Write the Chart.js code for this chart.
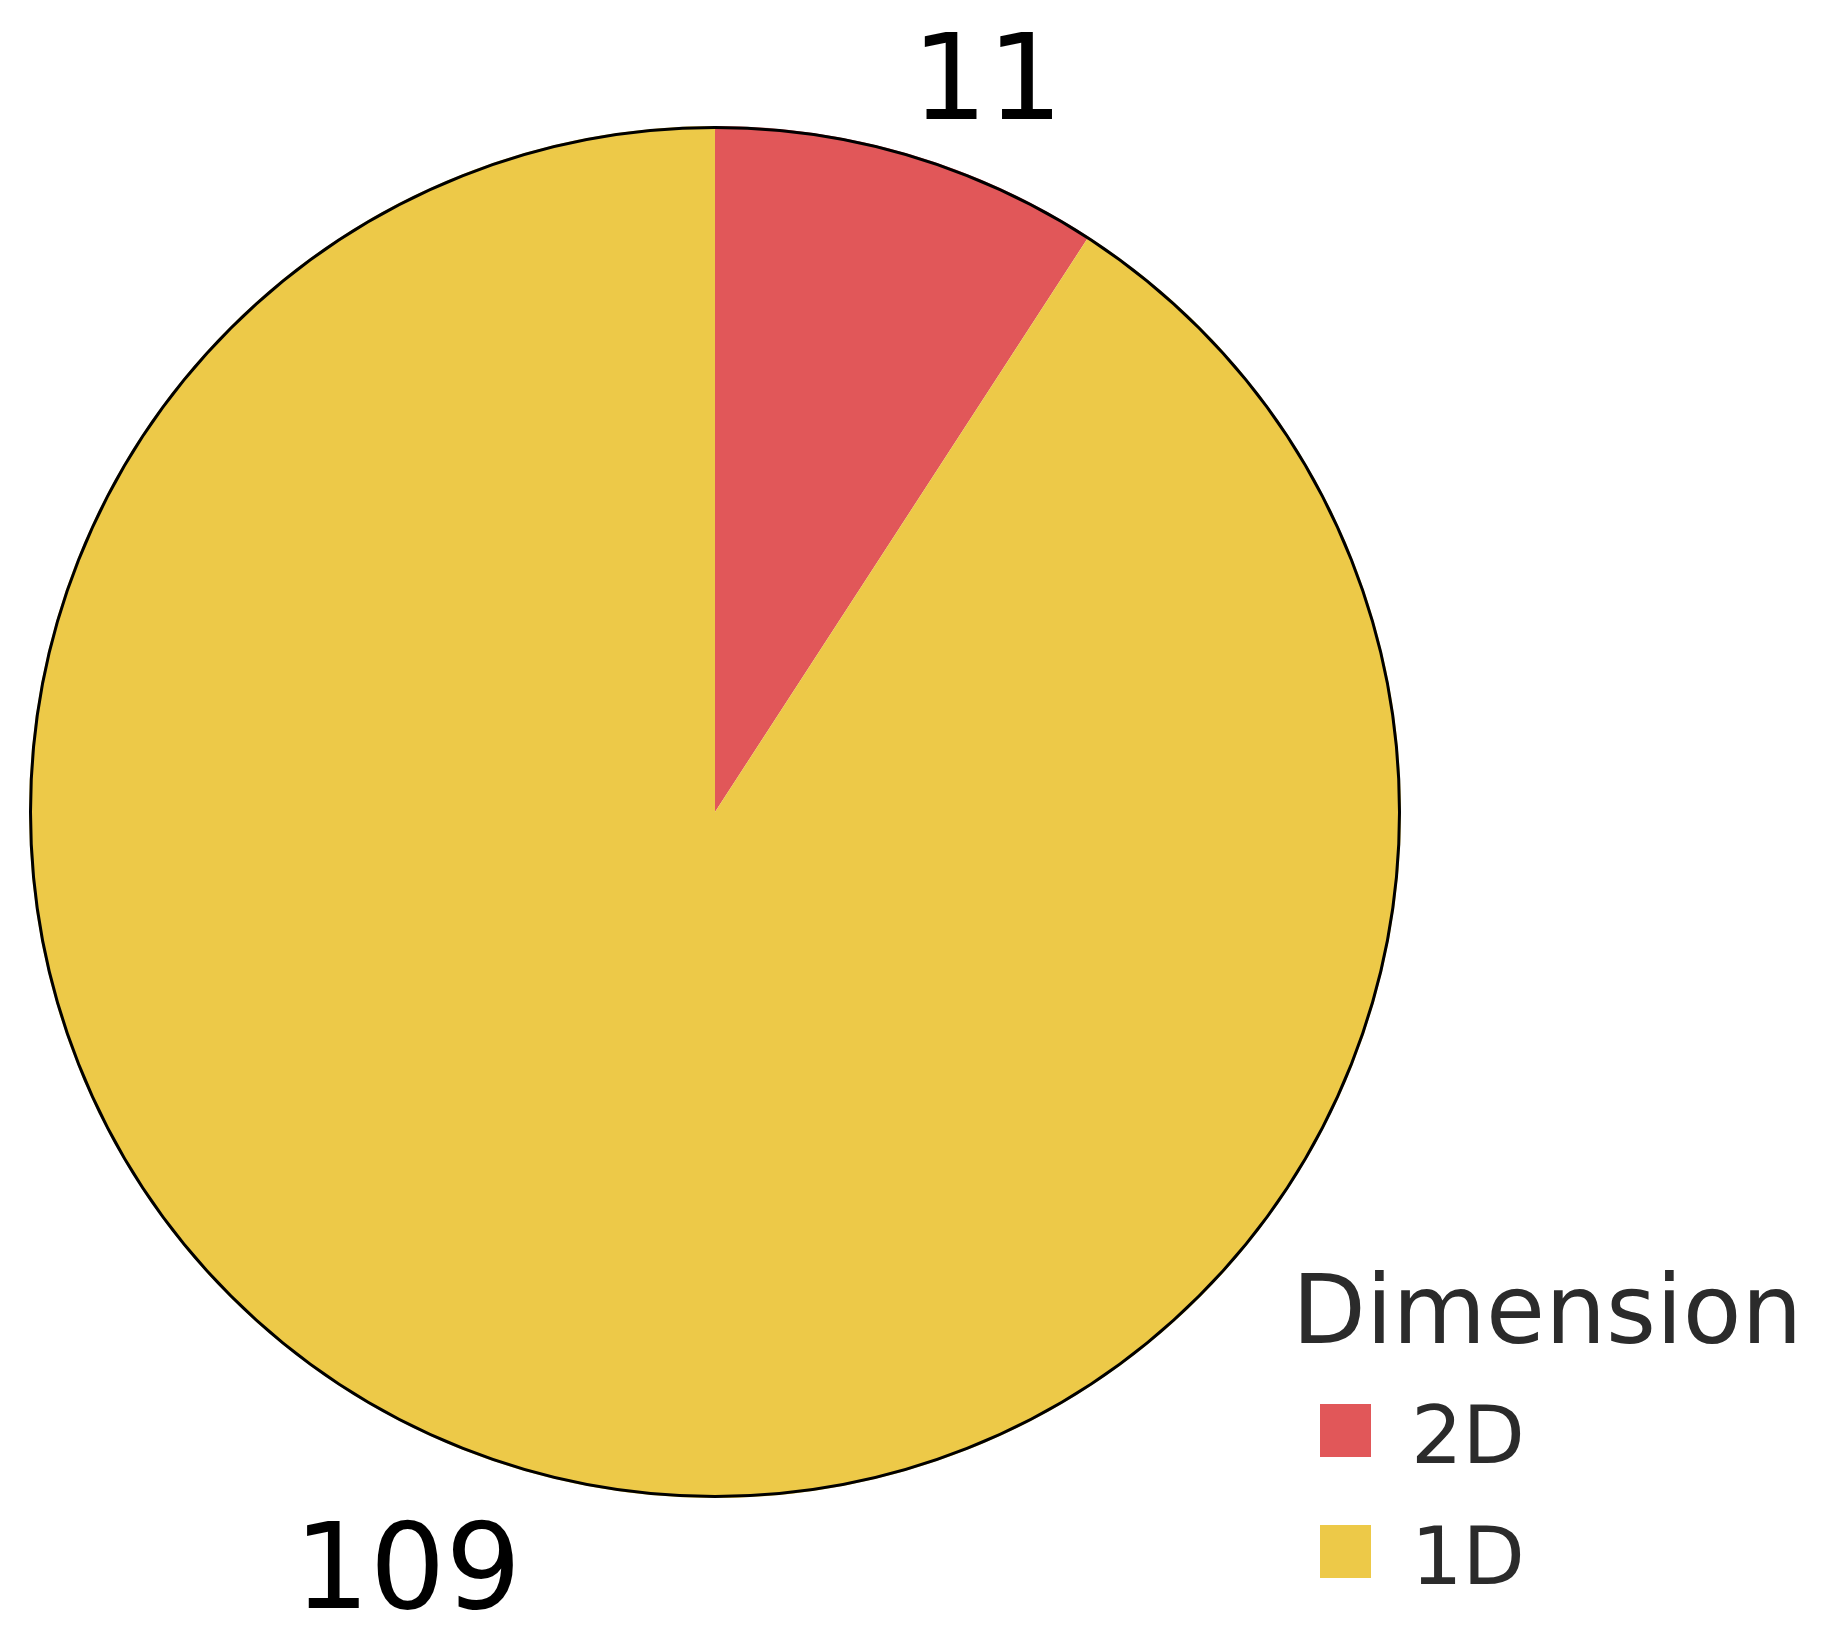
<!DOCTYPE html>
<html>
<head>
<meta charset="utf-8">
<script src="https://cdn.jsdelivr.net/npm/chart.js@4/dist/chart.umd.min.js"></script>
<style>
html,body{margin:0;padding:0;background:#fff;}
#wrap{width:1830px;height:1640px;}
</style>
</head>
<body>
<div id="wrap"><canvas id="c" width="1830" height="1640"></canvas></div>
<script>
const categories = ["2D", "1D"];
const counts = [11, 109];
const sliceColors = ["#E15759", "#EDC948"];
const legendTitle = "Dimension";

const outlinePlugin = {
  id: 'outline',
  afterDatasetsDraw(chart, args, opts) {
    const meta = chart.getDatasetMeta(0);
    const a = meta.data[0];
    if (!a) return;
    const ctx = chart.ctx;
    ctx.save();
    ctx.beginPath();
    ctx.arc(a.x, a.y, a.outerRadius - opts.width / 2, 0, Math.PI * 2);
    ctx.lineWidth = opts.width;
    ctx.strokeStyle = opts.color;
    ctx.stroke();
    ctx.restore();
  }
};

const valueLabelPlugin = {
  id: 'valueLabels',
  afterDraw(chart, args, opts) {
    const meta = chart.getDatasetMeta(0);
    const ctx = chart.ctx;
    const values = chart.data.datasets[0].data;
    ctx.save();
    ctx.font = opts.font;
    ctx.fillStyle = opts.color;
    ctx.textAlign = 'center';
    ctx.textBaseline = 'alphabetic';
    meta.data.forEach((arc, i) => {
      const off = opts.offsets[i];
      const R = arc.outerRadius;
      ctx.fillText(String(values[i]), arc.x + off[0] * R, arc.y + off[1] * R);
    });
    ctx.restore();
  }
};

const legendPlugin = {
  id: 'customLegend',
  afterDraw(chart, args, opts) {
    const ctx = chart.ctx;
    const ds = chart.data.datasets[0];
    ctx.save();
    ctx.fillStyle = opts.textColor;
    ctx.textAlign = 'left';
    ctx.textBaseline = 'alphabetic';
    ctx.font = opts.titleFont;
    ctx.fillText(opts.title, opts.x, opts.titleBaseline);
    ctx.font = opts.itemFont;
    chart.data.labels.forEach((lab, i) => {
      const top = opts.firstSwatchTop + i * opts.rowStep;
      ctx.fillStyle = ds.backgroundColor[i];
      ctx.fillRect(opts.swatchX, top, opts.swatchW, opts.swatchH);
      ctx.fillStyle = opts.textColor;
      ctx.fillText(lab, opts.textX, top + opts.textBaselineOffset);
    });
    ctx.restore();
  }
};

new Chart(document.getElementById('c'), {
  type: 'pie',
  data: {
    labels: categories,
    datasets: [{
      data: counts,
      backgroundColor: sliceColors,
      borderWidth: 0
    }]
  },
  options: {
    responsive: false,
    animation: false,
    layout: { padding: { left: 29, top: 126, right: 429, bottom: 142 } },
    plugins: {
      legend: { display: false },
      tooltip: { enabled: false },
      outline: { width: 3, color: '#000' },
      valueLabels: {
        font: '119px "DejaVu Sans"',
        color: '#000',
        offsets: [[0.397, -1.010], [-0.448, 1.161]]
      },
      customLegend: {
        title: legendTitle,
        titleFont: '96px "DejaVu Sans"',
        itemFont: '81px "DejaVu Sans"',
        textColor: '#2b2b2b',
        x: 1292,
        titleBaseline: 1343,
        swatchX: 1320,
        swatchW: 51,
        swatchH: 53,
        firstSwatchTop: 1404,
        rowStep: 121,
        textX: 1411,
        textBaselineOffset: 59
      }
    }
  },
  plugins: [outlinePlugin, valueLabelPlugin, legendPlugin]
});
</script>
</body>
</html>
